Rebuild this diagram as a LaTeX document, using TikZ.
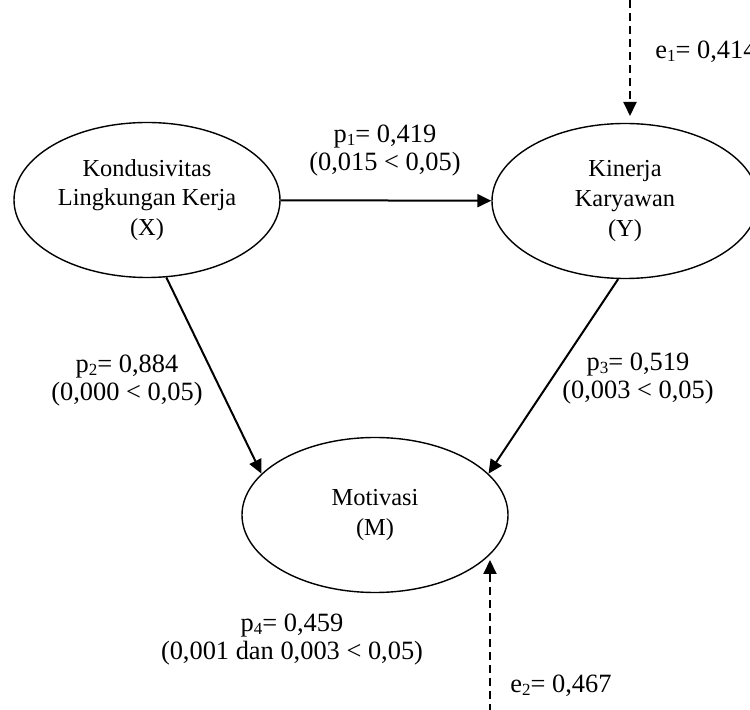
\documentclass[tikz,border=0pt]{standalone}
\usepackage{fontspec}
\setmainfont{Liberation Serif}
\usetikzlibrary{arrows.meta,shapes.geometric}

\tikzset{
	var/.style={draw, ellipse, line width=0.7pt, minimum width=133pt, minimum height=77.5pt, inner sep=0pt, align=center, font=\fontsize{12.2}{14.8}\selectfont},
	coef/.style={align=center, font=\fontsize{13.2}{14}\selectfont},
	arr/.style={line width=1pt, -{Triangle[length=7pt,width=6.5pt]}},
	errarr/.style={line width=1pt, dash pattern=on 4pt off 2.5pt, -{Triangle[length=7pt,width=6.5pt]}}
}

\begin{document}
\begin{tikzpicture}[x=0.5pt, y=-0.5pt]

\clip (0,0) rectangle (750,710);

\node[var] (X) at (147,200) {Kondusivitas\\Lingkungan Kerja\\(X)};
\node[var] (Y) at (625,201) {Kinerja\\Karyawan\\(Y)};
\node[var] (M) at (375,515) {Motivasi\\(M)};

\coordinate (e1top) at (630,0);
\coordinate (e1end) at (630,116);
\coordinate (e2bot) at (490,712);
\coordinate (e2end) at (490,560);

\draw[arr] (X) -- (Y);
\draw[arr] (X.-76) -- (M.160);
\draw[arr] (Y.-95) -- (M.20);

\draw[errarr] (e1top) -- (e1end);
\draw[errarr] (e2bot) -- (e2end);

\node[coef] (p1) at (385,151) {p{\fontsize{8.5}{9}\selectfont\raisebox{-0.3ex}{1}}= 0,419\\(0,015 < 0,05)};
\node[coef] (p2) at (127,381) {p{\fontsize{8.5}{9}\selectfont\raisebox{-0.3ex}{2}}= 0,884\\(0,000 < 0,05)};
\node[coef] (p3) at (638,379) {p{\fontsize{8.5}{9}\selectfont\raisebox{-0.3ex}{3}}= 0,519\\(0,003 < 0,05)};
\node[coef] (p4) at (292,640) {p{\fontsize{8.5}{9}\selectfont\raisebox{-0.3ex}{4}}= 0,459\\(0,001 dan 0,003 < 0,05)};
\node[coef, anchor=west, inner sep=0pt] (e1) at (655,52) {e{\fontsize{8.5}{9}\selectfont\raisebox{-0.3ex}{1}}= 0,414};
\node[coef, anchor=west, inner sep=0pt] (e2) at (510,686) {e{\fontsize{8.5}{9}\selectfont\raisebox{-0.3ex}{2}}= 0,467};

\end{tikzpicture}
\end{document}
